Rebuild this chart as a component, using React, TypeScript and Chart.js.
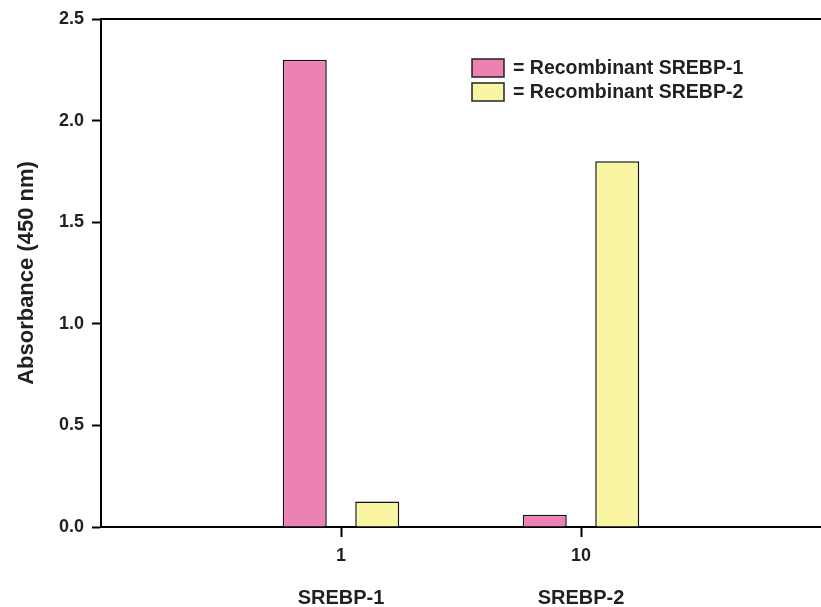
import React, { useEffect, useRef } from "react";
import { Chart, registerables } from "chart.js";

Chart.register(...registerables);

const concentrations = ["1", "10"];
const groups = ["SREBP-1", "SREBP-2"];
const seriesNames = ["= Recombinant SREBP-1", "= Recombinant SREBP-2"];
const srebp1Values = [2.3, 0.06];
const srebp2Values = [0.125, 1.8];
const yTicks = [0, 0.5, 1.0, 1.5, 2.0, 2.5];

const PINK = "#EC82B3";
const YELLOW = "#FAF5A2";
const INK = "#231f20";
const FONT = "'Liberation Sans', Arial, Helvetica, sans-serif";

const W = 821;
const H = 607;

const pad = (arr: any[], fill: any) => [fill, ...arr, fill];

const noPad = (s: any) => {
  s.paddingLeft = 0;
  s.paddingRight = 0;
  s.paddingTop = 0;
  s.paddingBottom = 0;
};

const frameAndLegend = {
  id: "frameAndLegend",
  afterDraw(chart: any) {
    const { ctx, chartArea } = chart;
    ctx.save();
    ctx.strokeStyle = "#000";
    ctx.lineWidth = 2;
    ctx.beginPath();
    ctx.moveTo(chartArea.left, chartArea.top);
    ctx.lineTo(chart.width, chartArea.top);
    ctx.stroke();
    const colors = [PINK, YELLOW];
    ctx.font = `bold 19.5px ${FONT}`;
    ctx.textBaseline = "middle";
    ctx.textAlign = "left";
    for (let i = 0; i < seriesNames.length; i++) {
      const bx = 472;
      const by = 59 + i * 24;
      ctx.fillStyle = colors[i];
      ctx.fillRect(bx, by, 32, 18);
      ctx.strokeStyle = "#222";
      ctx.lineWidth = 1.5;
      ctx.strokeRect(bx, by, 32, 18);
      ctx.fillStyle = INK;
      ctx.fillText(seriesNames[i], bx + 41, by + 10);
    }
    ctx.restore();
  },
};

export default function App() {
  const ref = useRef<HTMLCanvasElement>(null);
  useEffect(() => {
    if (!ref.current) return;
    const labels = pad(concentrations, "");
    const chart = new Chart(ref.current, {
      type: "bar",
      data: {
        labels,
        datasets: [
          {
            label: seriesNames[0],
            data: pad(srebp1Values, null),
            backgroundColor: PINK,
            borderColor: "#111",
            borderWidth: 1.5,
            categoryPercentage: 0.604,
            barPercentage: 0.607,
          },
          {
            label: seriesNames[1],
            data: pad(srebp2Values, null),
            backgroundColor: YELLOW,
            borderColor: "#111",
            borderWidth: 1.5,
            categoryPercentage: 0.604,
            barPercentage: 0.607,
          },
        ],
      },
      options: {
        responsive: false,
        animation: false,
        layout: { padding: { top: 19, left: 0, right: -5, bottom: 0 } },
        plugins: { legend: { display: false }, tooltip: { enabled: false } },
        scales: {
          x: {
            type: "category",
            position: "bottom",
            offset: false,
            grid: {
              offset: false,
              drawOnChartArea: false,
              drawTicks: true,
              tickLength: 10,
              tickWidth: 2,
              tickColor: (c: any) => (labels[c.index] ? "#000" : "rgba(0,0,0,0)"),
            },
            border: { display: true, color: "#000", width: 2 },
            ticks: {
              autoSkip: false,
              maxRotation: 0,
              color: INK,
              padding: 8,
              font: { family: FONT, size: 18, weight: "bold" },
            },
            afterFit: (s: any) => {
              s.height = 45;
              noPad(s);
            },
          },
          x2: {
            type: "category",
            position: "bottom",
            offset: false,
            labels: pad(groups, ""),
            grid: { display: false, offset: false },
            border: { display: false },
            ticks: {
              autoSkip: false,
              maxRotation: 0,
              color: INK,
              padding: 6,
              font: { family: FONT, size: 20, weight: "bold" },
            },
            afterFit: (s: any) => {
              s.height = 35;
              noPad(s);
            },
          },
          y: {
            min: 0,
            max: 2.5,
            afterBuildTicks: (s: any) => {
              s.ticks = yTicks.map((v) => ({ value: v }));
            },
            grid: {
              drawOnChartArea: false,
              drawTicks: true,
              tickLength: 9,
              tickWidth: 2,
              tickColor: "#000",
            },
            border: { display: true, color: "#000", width: 2 },
            ticks: {
              padding: 8,
              color: INK,
              font: { family: FONT, size: 18, weight: "bold" },
              callback: (v: any) => Number(v).toFixed(1),
            },
            title: {
              display: true,
              text: "Absorbance (450 nm)",
              color: INK,
              font: { family: FONT, size: 22, weight: "bold" },
              padding: { top: 14, bottom: 0 },
            },
            afterFit: (s: any) => {
              s.width = 101;
              noPad(s);
            },
          },
        },
      },
      plugins: [frameAndLegend],
    } as any);
    return () => chart.destroy();
  }, []);
  return (
    <div style={{ position: "fixed", left: 0, top: 0, width: W, height: H, background: "#fff" }}>
      <canvas ref={ref} width={W} height={H} style={{ display: "block" }} />
    </div>
  );
}
